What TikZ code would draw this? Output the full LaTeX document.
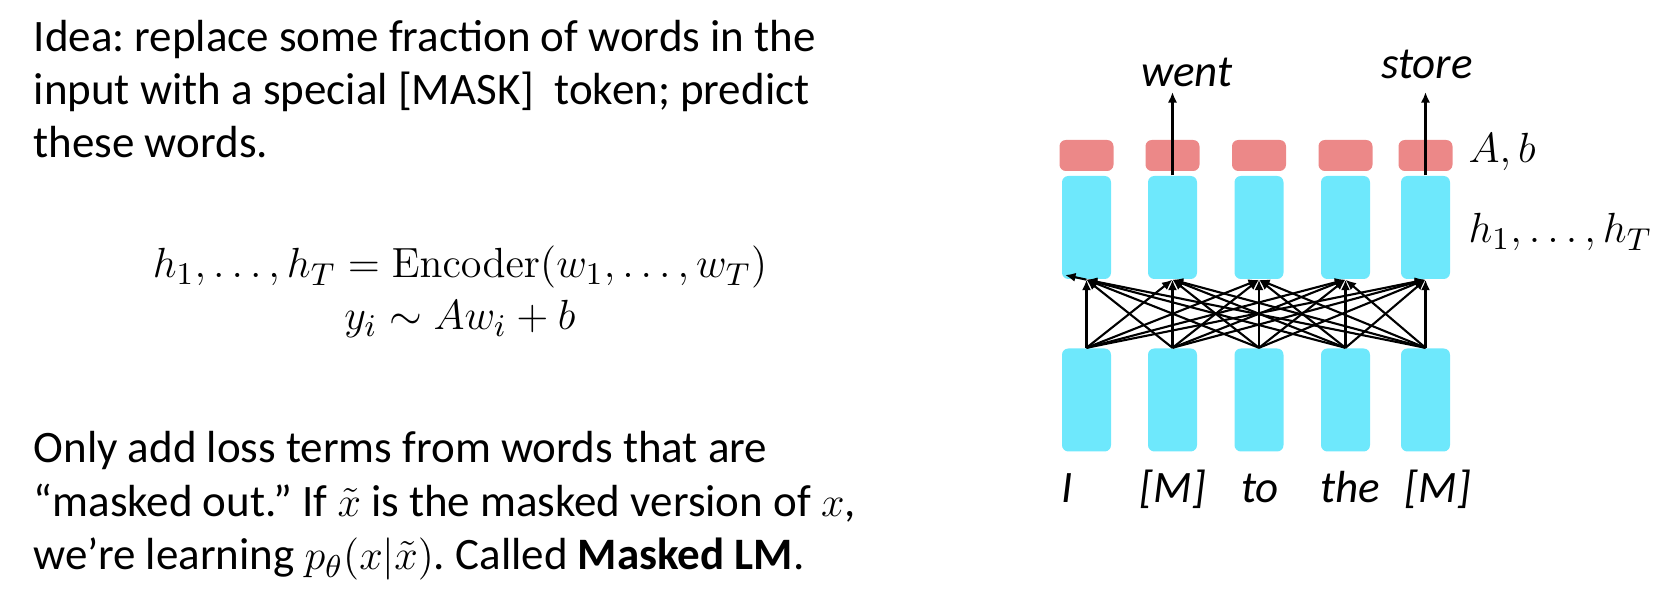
\documentclass[tikz,border=0pt]{standalone}
\usepackage[no-math]{fontspec}
\setmainfont{Carlito}
\usetikzlibrary{arrows.meta}
\frenchspacing
\definecolor{hidblue}{RGB}{110,232,252}
\definecolor{outred}{RGB}{236,136,136}
\tikzset{
	txt/.style={font=\fontsize{12.8}{15}\selectfont, anchor=base west, inner sep=0},
	word/.style={font=\fontsize{12.8}{15}\selectfont\itshape, anchor=base, inner sep=0},
	hidbox/.style={fill=hidblue, rounded corners=1.8pt, minimum width=0.49cm, minimum height=1.03cm, inner sep=0},
	outbox/.style={fill=outred, rounded corners=1.8pt, minimum width=0.54cm, minimum height=0.31cm, inner sep=0},
	conn/.style={line width=0.6pt, -{Latex[length=3pt,width=2.6pt]}}
}

\begin{document}
\begin{tikzpicture}
				%%%%% START %%%%%
				\useasboundingbox (0, 0) rectangle (16.7, 5.92);
				
				\node[txt] (idea1) at (0.33, 5.40) {Idea: replace some fraction of words in the};
				\node[txt] (idea2) at (0.33, 4.87) {input with a special [MASK]~ token; predict};
				\node[txt] (idea3) at (0.33, 4.34) {these words.};
				
				\node[txt, anchor=base] (enc) at (4.60, 3.14) {$h_1, \ldots, h_T = \mathrm{Encoder}(w_1, \ldots, w_T)$};
				\node[txt, anchor=base] (pred) at (4.60, 2.62) {$y_i \sim A w_i + b$};
				
				\node[txt] (only1) at (0.33, 1.29) {Only add loss terms from words that are};
				\node[txt] (only2) at (0.33, 0.75) {“masked out.” If $\tilde{x}$ is the masked version of $x$,};
				\node[txt] (only3) at (0.33, 0.22) {we’re learning $p_\theta(x|\tilde{x})$. Called \textbf{Masked LM}.};
				
				%%%%% NETWORK %%%%%
				\foreach \i/\x in {1/10.865, 2/11.725, 3/12.59, 4/13.455, 5/14.255} {
					\node[hidbox] (in\i) at (\x, 1.92) {};
					\node[hidbox] (hid\i) at (\x, 3.645) {};
					\node[outbox] (out\i) at (\x, 4.365) {};
				}
				
				\foreach \s in {1,...,5}
					\foreach \t in {1,...,5}
						\draw[conn] (in\s.north) -- (hid\t.south);
				\coordinate (stray) at (10.65, 3.17);
				\draw[conn] (hid1.south) -- (stray);
				
				\coordinate (wenttip) at (11.725, 5.00);
				\coordinate (storetip) at (14.255, 5.00);
				\draw[conn] (hid2.north) -- (wenttip);
				\draw[conn] (hid5.north) -- (storetip);
				
				\node[word] (went) at (11.87, 5.05) {went};
				\node[word] (store) at (14.27, 5.13) {store};
				
				\node[txt] (ab) at (14.68, 4.29) {$A, b$};
				\node[txt] (hs) at (14.68, 3.49) {$h_1, \ldots, h_T$};
				
				\node[word] (w1) at (10.67, 0.89) {I};
				\node[word] (w2) at (11.73, 0.89) {[M]};
				\node[word] (w3) at (12.60, 0.89) {to};
				\node[word] (w4) at (13.50, 0.89) {the};
				\node[word] (w5) at (14.38, 0.89) {[M]};
				%%%%% END %%%%%
\end{tikzpicture}
\end{document}
